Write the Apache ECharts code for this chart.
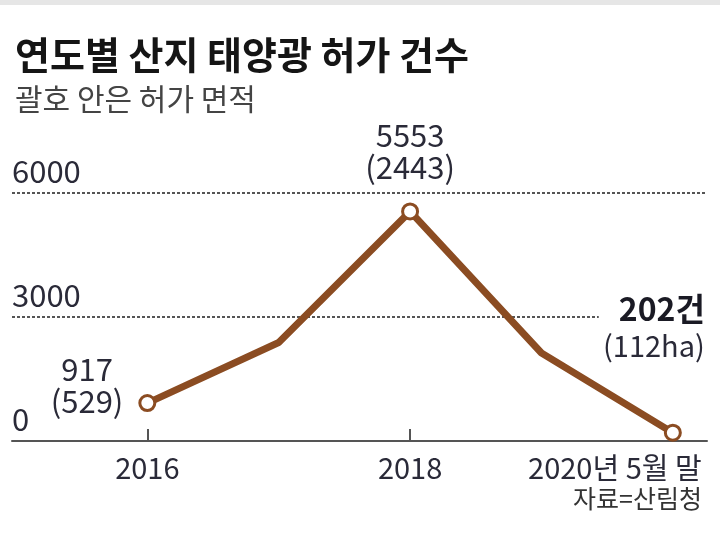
<!DOCTYPE html>
<html>
<head>
<meta charset="utf-8">
<script src="https://cdn.jsdelivr.net/npm/echarts@6/dist/echarts.min.js"></script>
<style>
  html, body { margin: 0; padding: 0; background: #fff; }
  #chart { width: 720px; height: 540px; }
</style>
</head>
<body>
<div id="chart"></div>
<script>
var years = [2016, 2017, 2018, 2019, 2020];
var counts = [917, 2384, 5553, 2129, 202];   // 허가 건수
var areas = [529, null, 2443, null, 112];    // 허가 면적(ha)
var yTicks = [0, 3000, 6000];
var xLabelYears = [2016, 2018, 2020];
var xTickYears = [2016, 2018];

var brown = '#8b4c22';
var ink = '#2a2a38';
var numFont = "'Noto Sans CJK KR', sans-serif";
var krFont = "'Noto Sans CJK KR', sans-serif";

// 점별 라벨 위치
var labelCfg = {
  0: {position: 'left', align: 'right', verticalAlign: 'middle', offset: [-2, -18]},
  2: {position: 'top', align: 'center', verticalAlign: 'bottom', offset: [0, -14]},
  4: {position: 'top', align: 'right', verticalAlign: 'bottom', offset: [41, -56]}
};

var data = years.map(function (y, i) {
  var item = {value: [y, counts[i]]};
  if (areas[i] == null) {
    item.symbol = 'none';
    item.label = {show: false};
  } else {
    var last = i === years.length - 1;
    var txt = last
      ? '{big|' + counts[i] + '건}\n{ha|(' + areas[i] + 'ha)}'
      : '{n|' + counts[i] + '}\n{a|(' + areas[i] + ')}';
    item.label = Object.assign({show: true, formatter: txt}, labelCfg[i]);
  }
  return item;
});

var option = {
  animation: false,
  title: {
    text: '연도별 산지 태양광 허가 건수',
    subtext: '괄호 안은 허가 면적',
    left: 10,
    top: 31,
    itemGap: 10,
    textStyle: {fontFamily: krFont, fontSize: 38, fontWeight: 'bold', color: '#151515'},
    subtextStyle: {fontFamily: krFont, fontSize: 30, color: '#444'}
  },
  graphic: [
    {type: 'rect', left: 0, top: 0, shape: {width: 720, height: 5}, style: {fill: '#e6e6e6'}},
    {
      type: 'text', right: 18, top: 486,
      style: {text: '자료=산림청', font: '25px ' + krFont, fill: '#333'}
    }
  ],
  grid: {left: 12, right: 13, top: 193, bottom: 99, outerBoundsMode: 'none'},
  xAxis: {
    type: 'value',
    min: 2014.97,
    max: 2020.26,
    splitLine: {show: false},
    axisLine: {lineStyle: {color: '#555', width: 2}},
    axisTick: {
      show: true, inside: true, length: 12,
      customValues: xTickYears,
      lineStyle: {color: '#555', width: 2}
    },
    axisLabel: {
      customValues: xLabelYears,
      margin: 12,
      fontFamily: numFont,
      fontSize: 29,
      color: ink,
      formatter: function (v) {
        return v === 2020 ? '{last|2020년 5월 말}' : String(v);
      },
      rich: {
        last: {fontFamily: numFont, fontSize: 29, color: ink, padding: [0, 116, 0, 0]}
      }
    }
  },
  yAxis: {
    type: 'value',
    min: 0,
    max: 6000,
    interval: 3000,
    axisLine: {show: false},
    axisTick: {show: false},
    splitLine: {lineStyle: {color: '#555', type: [3, 2], width: 2}},
    axisLabel: {
      inside: true,
      margin: 0,
      verticalAlign: 'bottom',
      padding: [0, 0, 6, 0],
      fontFamily: numFont,
      fontSize: 31,
      color: ink,
      formatter: function (v) { return yTicks.indexOf(v) >= 0 ? String(v) : ''; }
    }
  },
  series: [{
    type: 'line',
    data: data,
    z: 5,
    symbol: 'circle',
    symbolSize: 15,
    lineStyle: {color: brown, width: 7},
    itemStyle: {color: '#fff', borderColor: brown, borderWidth: 3},
    label: {
      distance: 5,
      rich: {
        n: {fontFamily: numFont, fontSize: 31, color: ink, lineHeight: 32, align: 'center'},
        a: {fontFamily: numFont, fontSize: 31, color: ink, lineHeight: 32, backgroundColor: '#fff', padding: [0, 8]},
        big: {fontFamily: numFont, fontSize: 32, fontWeight: 'bold', color: '#1a1a24', lineHeight: 40,
              backgroundColor: '#fff', padding: [0, 9, 0, 20]},
        ha: {fontFamily: numFont, fontSize: 29, color: ink, lineHeight: 34, padding: [0, 9, 0, 0]}
      }
    }
  }]
};

var myChart = echarts.init(document.getElementById('chart'));
myChart.setOption(option);
</script>
</body>
</html>
